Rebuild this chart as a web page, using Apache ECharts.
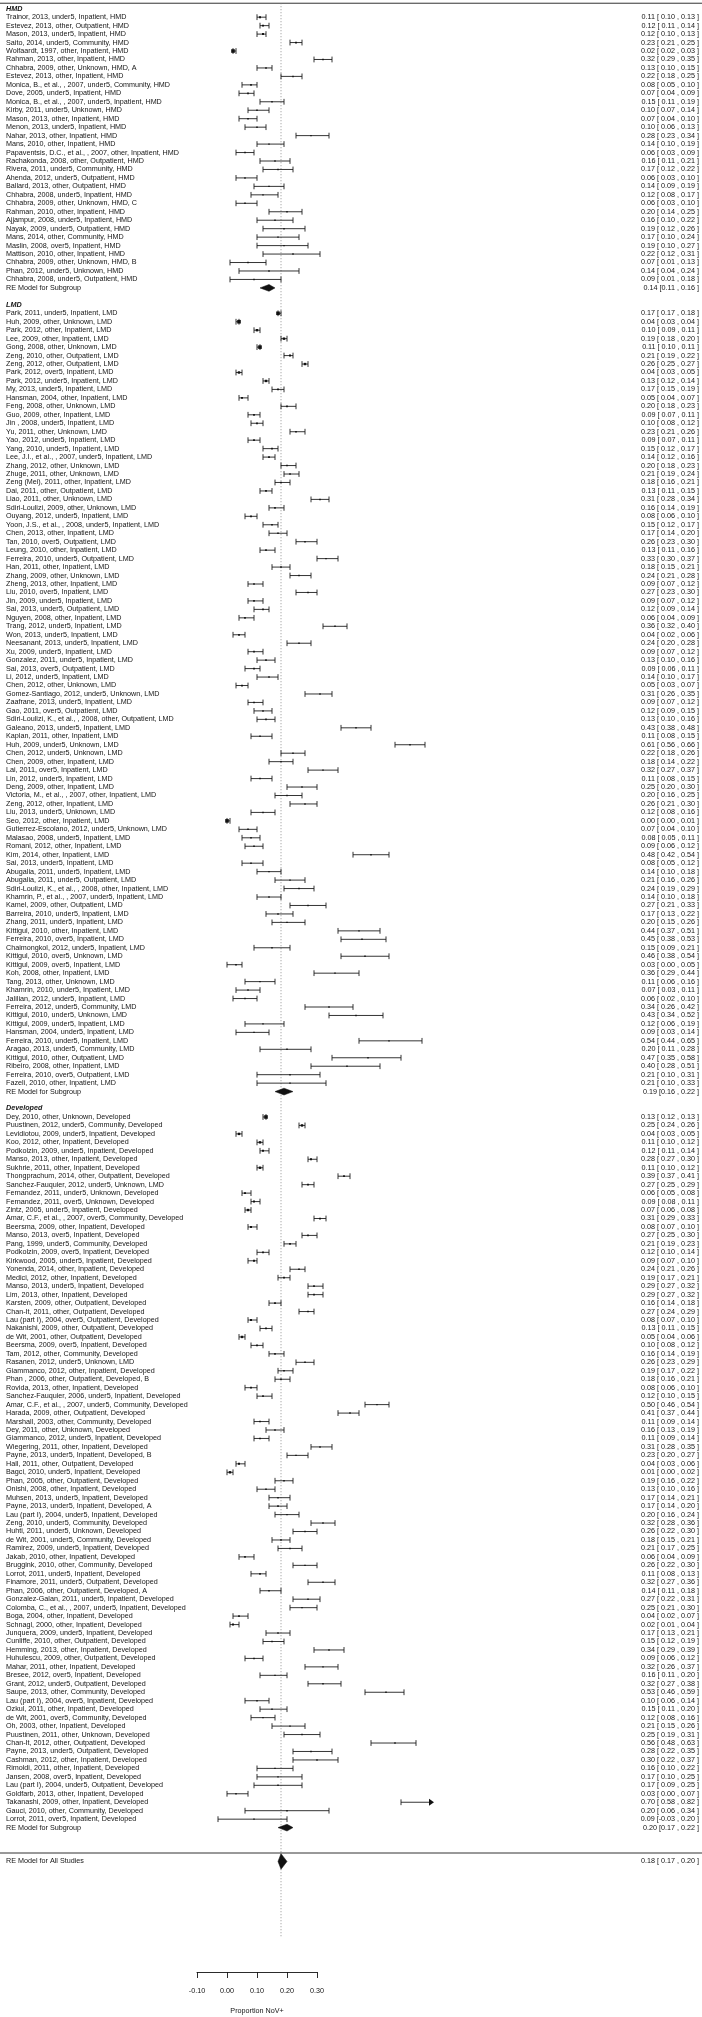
<!DOCTYPE html>
<html>
<head>
<meta charset="utf-8">
<script src="https://cdn.jsdelivr.net/npm/echarts@6/dist/echarts.min.js"></script>
<style>
html,body{margin:0;padding:0;background:#ffffff;}
#chart{width:702px;height:2017px;}
</style>
</head>
<body>
<div id="chart"></div>
<script>
// ---------------- DATA ----------------
const hmdLabels = [
"Trainor, 2013, under5, Inpatient, HMD",
"Estevez, 2013, other, Outpatient, HMD",
"Mason, 2013, under5, Inpatient, HMD",
"Saito, 2014, under5, Community, HMD",
"Wolfaardt, 1997, other, Inpatient, HMD",
"Rahman, 2013, other, Inpatient, HMD",
"Chhabra, 2009, other, Unknown, HMD, A",
"Estevez, 2013, other, Inpatient, HMD",
"Monica, B., et al., , 2007, under5, Community, HMD",
"Dove, 2005, under5, Inpatient, HMD",
"Monica, B., et al., , 2007, under5, Inpatient, HMD",
"Kirby, 2011, under5, Unknown, HMD",
"Mason, 2013, other, Inpatient, HMD",
"Menon, 2013, under5, Inpatient, HMD",
"Nahar, 2013, other, Inpatient, HMD",
"Mans, 2010, other, Inpatient, HMD",
"Papaventsis, D.C., et al., , 2007, other, Inpatient, HMD",
"Rachakonda, 2008, other, Outpatient, HMD",
"Rivera, 2011, under5, Community, HMD",
"Ahenda, 2012, under5, Outpatient, HMD",
"Ballard, 2013, other, Outpatient, HMD",
"Chhabra, 2008, under5, Inpatient, HMD",
"Chhabra, 2009, other, Unknown, HMD, C",
"Rahman, 2010, other, Inpatient, HMD",
"Ajjampur, 2008, under5, Inpatient, HMD",
"Nayak, 2009, under5, Outpatient, HMD",
"Mans, 2014, other, Community, HMD",
"Maslin, 2008, over5, Inpatient, HMD",
"Mattison, 2010, other, Inpatient, HMD",
"Chhabra, 2009, other, Unknown, HMD, B",
"Phan, 2012, under5, Unknown, HMD",
"Chhabra, 2008, under5, Outpatient, HMD"
];
const hmdEst = [0.11,0.12,0.12,0.23,0.02,0.32,0.13,0.22,0.08,0.07,0.15,0.10,0.07,0.10,0.28,0.14,0.06,0.16,0.17,0.06,0.14,0.12,0.06,0.20,0.16,0.19,0.17,0.19,0.22,0.07,0.14,0.09];
const hmdLower = [0.10,0.11,0.10,0.21,0.02,0.29,0.10,0.18,0.05,0.04,0.11,0.07,0.04,0.06,0.23,0.10,0.03,0.11,0.12,0.03,0.09,0.08,0.03,0.14,0.10,0.12,0.10,0.10,0.12,0.01,0.04,0.01];
const hmdUpper = [0.13,0.14,0.13,0.25,0.03,0.35,0.15,0.25,0.10,0.09,0.19,0.14,0.10,0.13,0.34,0.19,0.09,0.21,0.22,0.10,0.19,0.17,0.10,0.25,0.22,0.26,0.24,0.27,0.31,0.13,0.24,0.18];

const lmdLabels = [
"Park, 2011, under5, Inpatient, LMD",
"Huh, 2009, other, Unknown, LMD",
"Park, 2012, other, Inpatient, LMD",
"Lee, 2009, other, Inpatient, LMD",
"Gong, 2008, other, Unknown, LMD",
"Zeng, 2010, other, Outpatient, LMD",
"Zeng, 2012, other, Outpatient, LMD",
"Park, 2012, over5, Inpatient, LMD",
"Park, 2012, under5, Inpatient, LMD",
"My, 2013, under5, Inpatient, LMD",
"Hansman, 2004, other, Inpatient, LMD",
"Feng, 2008, other, Unknown, LMD",
"Guo, 2009, other, Inpatient, LMD",
"Jin , 2008, under5, Inpatient, LMD",
"Yu, 2011, other, Unknown, LMD",
"Yao, 2012, under5, Inpatient, LMD",
"Yang, 2010, under5, Inpatient, LMD",
"Lee, J.I., et al., , 2007, under5, Inpatient, LMD",
"Zhang, 2012, other, Unknown, LMD",
"Zhuge, 2011, other, Unknown, LMD",
"Zeng (Mei), 2011, other, Inpatient, LMD",
"Dai, 2011, other, Outpatient, LMD",
"Liao, 2011, other, Unknown, LMD",
"Sdiri-Loulizi, 2009, other, Unknown, LMD",
"Ouyang, 2012, under5, Inpatient, LMD",
"Yoon, J.S., et al., , 2008, under5, Inpatient, LMD",
"Chen, 2013, other, Inpatient, LMD",
"Tan, 2010, over5, Outpatient, LMD",
"Leung, 2010, other, Inpatient, LMD",
"Ferreira, 2010, under5, Outpatient, LMD",
"Han, 2011, other, Inpatient, LMD",
"Zhang, 2009, other, Unknown, LMD",
"Zheng, 2013, other, Inpatient, LMD",
"Liu, 2010, over5, Inpatient, LMD",
"Jin, 2009, under5, Inpatient, LMD",
"Sai, 2013, under5, Outpatient, LMD",
"Nguyen, 2008, other, Inpatient, LMD",
"Trang, 2012, under5, Inpatient, LMD",
"Won, 2013, under5, Inpatient, LMD",
"Neesanant, 2013, under5, Inpatient, LMD",
"Xu, 2009, under5, Inpatient, LMD",
"Gonzalez, 2011, under5, Inpatient, LMD",
"Sai, 2013, over5, Outpatient, LMD",
"Li, 2012, under5, Inpatient, LMD",
"Chen, 2012, other, Unknown, LMD",
"Gomez-Santiago, 2012, under5, Unknown, LMD",
"Zaafrane, 2013, under5, Inpatient, LMD",
"Gao, 2011, over5, Outpatient, LMD",
"Sdiri-Loulizi, K., et al., , 2008, other, Outpatient, LMD",
"Galeano, 2013, under5, Inpatient, LMD",
"Kaplan, 2011, other, Inpatient, LMD",
"Huh, 2009, under5, Unknown, LMD",
"Chen, 2012, under5, Unknown, LMD",
"Chen, 2009, other, Inpatient, LMD",
"Lai, 2011, over5, Inpatient, LMD",
"Lin, 2012, under5, Inpatient, LMD",
"Deng, 2009, other, Inpatient, LMD",
"Victoria, M., et al., , 2007, other, Inpatient, LMD",
"Zeng, 2012, other, Inpatient, LMD",
"Liu, 2013, under5, Unknown, LMD",
"Seo, 2012, other, Inpatient, LMD",
"Gutierrez-Escolano, 2012, under5, Unknown, LMD",
"Malasao, 2008, under5, Inpatient, LMD",
"Romani, 2012, other, Inpatient, LMD",
"Kim, 2014, other, Inpatient, LMD",
"Sai, 2013, under5, Inpatient, LMD",
"Abugalia, 2011, under5, Inpatient, LMD",
"Abugalia, 2011, under5, Outpatient, LMD",
"Sdiri-Loulizi, K., et al., , 2008, other, Inpatient, LMD",
"Khamrin, P., et al., , 2007, under5, Inpatient, LMD",
"Kamel, 2009, other, Outpatient, LMD",
"Barreira, 2010, under5, Inpatient, LMD",
"Zhang, 2011, under5, Inpatient, LMD",
"Kittigul, 2010, other, Inpatient, LMD",
"Ferreira, 2010, over5, Inpatient, LMD",
"Chaimongkol, 2012, under5, Inpatient, LMD",
"Kittigul, 2010, over5, Unknown, LMD",
"Kittigul, 2009, over5, Inpatient, LMD",
"Koh, 2008, other, Inpatient, LMD",
"Tang, 2013, other, Unknown, LMD",
"Khamrin, 2010, under5, Inpatient, LMD",
"Jalilian, 2012, under5, Inpatient, LMD",
"Ferreira, 2012, under5, Community, LMD",
"Kittigul, 2010, under5, Unknown, LMD",
"Kittigul, 2009, under5, Inpatient, LMD",
"Hansman, 2004, under5, Inpatient, LMD",
"Ferreira, 2010, under5, Inpatient, LMD",
"Aragao, 2013, under5, Community, LMD",
"Kittigul, 2010, other, Outpatient, LMD",
"Ribeiro, 2008, other, Inpatient, LMD",
"Ferreira, 2010, over5, Outpatient, LMD",
"Fazeli, 2010, other, Inpatient, LMD"
];
const lmdEst = [
0.17,0.04,0.10,0.19,0.11,0.21,0.26,0.04,0.13,0.17,
0.05,0.20,0.09,0.10,0.23,0.09,0.15,0.14,0.20,0.21,
0.18,0.13,0.31,0.16,0.08,0.15,0.17,0.26,0.13,0.33,
0.18,0.24,0.09,0.27,0.09,0.12,0.06,0.36,0.04,0.24,
0.09,0.13,0.09,0.14,0.05,0.31,0.09,0.12,0.13,0.43,
0.11,0.61,0.22,0.18,0.32,0.11,0.25,0.20,0.26,0.12,
0.00,0.07,0.08,0.09,0.48,0.08,0.14,0.21,0.24,0.14,
0.27,0.17,0.20,0.44,0.45,0.15,0.46,0.03,0.36,0.11,
0.07,0.06,0.34,0.43,0.12,0.09,0.54,0.20,0.47,0.40,
0.21,0.21];
const lmdLower = [
0.17,0.03,0.09,0.18,0.10,0.19,0.25,0.03,0.12,0.15,
0.04,0.18,0.07,0.08,0.21,0.07,0.12,0.12,0.18,0.19,
0.16,0.11,0.28,0.14,0.06,0.12,0.14,0.23,0.11,0.30,
0.15,0.21,0.07,0.23,0.07,0.09,0.04,0.32,0.02,0.20,
0.07,0.10,0.06,0.10,0.03,0.26,0.07,0.09,0.10,0.38,
0.08,0.56,0.18,0.14,0.27,0.08,0.20,0.16,0.21,0.08,
0.00,0.04,0.05,0.06,0.42,0.05,0.10,0.16,0.19,0.10,
0.21,0.13,0.15,0.37,0.38,0.09,0.38,0.00,0.29,0.06,
0.03,0.02,0.26,0.34,0.06,0.03,0.44,0.11,0.35,0.28,
0.10,0.10];
const lmdUpper = [
0.18,0.04,0.11,0.20,0.11,0.22,0.27,0.05,0.14,0.19,
0.07,0.23,0.11,0.12,0.26,0.11,0.17,0.16,0.23,0.24,
0.21,0.15,0.34,0.19,0.10,0.17,0.20,0.30,0.16,0.37,
0.21,0.28,0.12,0.30,0.12,0.14,0.09,0.40,0.06,0.28,
0.12,0.16,0.11,0.17,0.07,0.35,0.12,0.15,0.16,0.48,
0.15,0.66,0.26,0.22,0.37,0.15,0.30,0.25,0.30,0.16,
0.01,0.10,0.11,0.12,0.54,0.12,0.18,0.26,0.29,0.18,
0.33,0.22,0.26,0.51,0.53,0.21,0.54,0.05,0.44,0.16,
0.11,0.10,0.42,0.52,0.19,0.14,0.65,0.28,0.58,0.51,
0.31,0.33];

const devLabels = [
"Dey, 2010, other, Unknown, Developed",
"Puustinen, 2012, under5, Community, Developed",
"Levidiotou, 2009, under5, Inpatient, Developed",
"Koo, 2012, other, Inpatient, Developed",
"Podkolzin, 2009, under5, Inpatient, Developed",
"Manso, 2013, other, Inpatient, Developed",
"Sukhrie, 2011, other, Inpatient, Developed",
"Thongprachum, 2014, other, Outpatient, Developed",
"Sanchez-Fauquier, 2012, under5, Unknown, LMD",
"Fernandez, 2011, under5, Unknown, Developed",
"Fernandez, 2011, over5, Unknown, Developed",
"Zintz, 2005, under5, Inpatient, Developed",
"Amar, C.F., et al., , 2007, over5, Community, Developed",
"Beersma, 2009, other, Inpatient, Developed",
"Manso, 2013, over5, Inpatient, Developed",
"Pang, 1999, under5, Community, Developed",
"Podkolzin, 2009, over5, Inpatient, Developed",
"Kirkwood, 2005, under5, Inpatient, Developed",
"Yonenda, 2014, other, Inpatient, Developed",
"Medici, 2012, other, Inpatient, Developed",
"Manso, 2013, under5, Inpatient, Developed",
"Lim, 2013, other, Inpatient, Developed",
"Karsten, 2009, other, Outpatient, Developed",
"Chan-It, 2011, other, Outpatient, Developed",
"Lau (part I), 2004, over5, Outpatient, Developed",
"Nakanishi, 2009, other, Outpatient, Developed",
"de Wit, 2001, other, Outpatient, Developed",
"Beersma, 2009, over5, Inpatient, Developed",
"Tam, 2012, other, Community, Developed",
"Rasanen, 2012, under5, Unknown, LMD",
"Giammanco, 2012, other, Inpatient, Developed",
"Phan , 2006, other, Outpatient, Developed, B",
"Rovida, 2013, other, Inpatient, Developed",
"Sanchez-Fauquier, 2006, under5, Inpatient, Developed",
"Amar, C.F., et al., , 2007, under5, Community, Developed",
"Harada, 2009, other, Outpatient, Developed",
"Marshall, 2003, other, Community, Developed",
"Dey, 2011, other, Unknown, Developed",
"Giammanco, 2012, under5, Inpatient, Developed",
"Wiegering, 2011, other, Inpatient, Developed",
"Payne, 2013, under5, Inpatient, Developed, B",
"Hall, 2011, other, Outpatient, Developed",
"Bagci, 2010, under5, Inpatient, Developed",
"Phan, 2005, other, Outpatient, Developed",
"Onishi, 2008, other, Inpatient, Developed",
"Muhsen, 2013, under5, Inpatient, Developed",
"Payne, 2013, under5, Inpatient, Developed, A",
"Lau (part I), 2004, under5, Inpatient, Developed",
"Zeng, 2010, under5, Community, Developed",
"Huhti, 2011, under5, Unknown, Developed",
"de Wit, 2001, under5, Community, Developed",
"Ramirez, 2009, under5, Inpatient, Developed",
"Jakab, 2010, other, Inpatient, Developed",
"Bruggink, 2010, other, Community, Developed",
"Lorrot, 2011, under5, Inpatient, Developed",
"Finamore, 2011, under5, Outpatient, Developed",
"Phan, 2006, other, Outpatient, Developed, A",
"Gonzalez-Galan, 2011, under5, Inpatient, Developed",
"Colomba, C., et al., , 2007, under5, Inpatient, Developed",
"Boga, 2004, other, Inpatient, Developed",
"Schnagl, 2000, other, Inpatient, Developed",
"Junquera, 2009, under5, Inpatient, Developed",
"Cunliffe, 2010, other, Outpatient, Developed",
"Hemming, 2013, other, Inpatient, Developed",
"Huhulescu, 2009, other, Outpatient, Developed",
"Mahar, 2011, other, Inpatient, Developed",
"Bresee, 2012, over5, Inpatient, Developed",
"Grant, 2012, under5, Outpatient, Developed",
"Saupe, 2013, other, Community, Developed",
"Lau (part I), 2004, over5, Inpatient, Developed",
"Ozkul, 2011, other, Inpatient, Developed",
"de Wit, 2001, over5, Community, Developed",
"Oh, 2003, other, Inpatient, Developed",
"Puustinen, 2011, other, Unknown, Developed",
"Chan-It, 2012, other, Outpatient, Developed",
"Payne, 2013, under5, Outpatient, Developed",
"Cashman, 2012, other, Inpatient, Developed",
"Rimoldi, 2011, other, Inpatient, Developed",
"Jansen, 2008, over5, Inpatient, Developed",
"Lau (part I), 2004, under5, Outpatient, Developed",
"Goldfarb, 2013, other, Inpatient, Developed",
"Takanashi, 2009, other, Inpatient, Developed",
"Gauci, 2010, other, Community, Developed",
"Lorrot, 2011, over5, Inpatient, Developed"
];
const devEst = [
0.13,0.25,0.04,0.11,0.12,0.28,0.11,0.39,0.27,0.06,
0.09,0.07,0.31,0.08,0.27,0.21,0.12,0.09,0.24,0.19,
0.29,0.29,0.16,0.27,0.08,0.13,0.05,0.10,0.16,0.26,
0.19,0.18,0.08,0.12,0.50,0.41,0.11,0.16,0.11,0.31,
0.23,0.04,0.01,0.19,0.13,0.17,0.17,0.20,0.32,0.26,
0.18,0.21,0.06,0.26,0.11,0.32,0.14,0.27,0.25,0.04,
0.02,0.17,0.15,0.34,0.09,0.32,0.16,0.32,0.53,0.10,
0.15,0.12,0.21,0.25,0.56,0.28,0.30,0.16,0.17,0.17,
0.03,0.70,0.20,0.09];
const devLower = [
0.12,0.24,0.03,0.10,0.11,0.27,0.10,0.37,0.25,0.05,
0.08,0.06,0.29,0.07,0.25,0.19,0.10,0.07,0.21,0.17,
0.27,0.27,0.14,0.24,0.07,0.11,0.04,0.08,0.14,0.23,
0.17,0.16,0.06,0.10,0.46,0.37,0.09,0.13,0.09,0.28,
0.20,0.03,0.00,0.16,0.10,0.14,0.14,0.16,0.28,0.22,
0.15,0.17,0.04,0.22,0.08,0.27,0.11,0.22,0.21,0.02,
0.01,0.13,0.12,0.29,0.06,0.26,0.11,0.27,0.46,0.06,
0.11,0.08,0.15,0.19,0.48,0.22,0.22,0.10,0.10,0.09,
0.00,0.58,0.06,-0.03];
const devUpper = [
0.13,0.26,0.05,0.12,0.14,0.30,0.12,0.41,0.29,0.08,
0.11,0.08,0.33,0.10,0.30,0.23,0.14,0.10,0.26,0.21,
0.32,0.32,0.18,0.29,0.10,0.15,0.06,0.12,0.19,0.29,
0.22,0.21,0.10,0.15,0.54,0.44,0.14,0.19,0.14,0.35,
0.27,0.06,0.02,0.22,0.16,0.21,0.20,0.24,0.36,0.30,
0.21,0.25,0.09,0.30,0.13,0.36,0.18,0.31,0.30,0.07,
0.04,0.21,0.19,0.39,0.12,0.37,0.20,0.38,0.59,0.14,
0.20,0.16,0.26,0.31,0.63,0.35,0.37,0.22,0.25,0.25,
0.07,0.82,0.34,0.20];

const subgroupNames = ["HMD", "LMD", "Developed"];
const subgroupEst = [0.14, 0.19, 0.20];
const subgroupLower = [0.11, 0.16, 0.17];
const subgroupUpper = [0.16, 0.22, 0.22];
const subgroupLabel = "RE Model for Subgroup";
const overallLabel = "RE Model for All Studies";
const overallEst = 0.18, overallLower = 0.17, overallUpper = 0.20;
const axisTicks = [-0.10, 0.00, 0.10, 0.20, 0.30];
const xAxisTitle = "Proportion NoV+";

// ---------------- LAYOUT ----------------
const W = 702, H = 2017;
const ZERO_PX = 227, PX_PER_UNIT = 300;       // x scale
const ROW_PX = 8.46, ROW0_PX = 1853;           // y scale (row 0 -> pixel)
const X_MIN = -ZERO_PX / PX_PER_UNIT, X_MAX = (W - ZERO_PX) / PX_PER_UNIT;
const Y_MAX = ROW0_PX / ROW_PX, Y_MIN = -(H - ROW0_PX) / ROW_PX;
const LABEL_X = (6 - ZERO_PX) / PX_PER_UNIT;
const VALUE_X = (699 - ZERO_PX) / PX_PER_UNIT;
const ALIM_HI = 0.69;
const FONT = "'Liberation Sans', Arial, Helvetica, sans-serif";
const FS = 7.2;
const INK = '#141414';

const f2 = v => (Math.abs(v) < 1e-9 ? 0 : v).toFixed(2);
const padL = v => (v < 0 ? '' : ' ') + f2(v);
const fmtStudy = (e, l, u) => f2(e) + ' [' + padL(l) + ' , ' + f2(u) + ' ]';
const fmtSub = (e, l, u) => f2(e) + ' [' + f2(l) + ' , ' + f2(u) + ' ]';

const groups = [
  {labels: hmdLabels, est: hmdEst, lo: hmdLower, hi: hmdUpper},
  {labels: lmdLabels, est: lmdEst, lo: lmdLower, hi: lmdUpper},
  {labels: devLabels, est: devEst, lo: devLower, hi: devUpper}
];

const texts = [];     // {x,row,text,align,weight,style}
const ciData = [];    // [est, lo, hi, row]
const sqData = [];    // [est, row, size]
const diaData = [];   // [est, lo, hi, row, halfHeightPx]

let row = 218;
const TOP_ROW = row + 0.65;
groups.forEach((g, gi) => {
  texts.push({x: LABEL_X, row, text: subgroupNames[gi], align: 'left', weight: 'bold', fstyle: 'italic'});
  row--;
  g.labels.forEach((lab, i) => {
    texts.push({x: LABEL_X, row, text: lab, align: 'left'});
    texts.push({x: VALUE_X, row, text: fmtStudy(g.est[i], g.lo[i], g.hi[i]), align: 'right'});
    ciData.push([g.est[i], g.lo[i], g.hi[i], row]);
    if (g.est[i] <= ALIM_HI) {
      const w = Math.max(g.hi[i] - g.lo[i], 0.01);
      sqData.push([g.est[i], row, Math.min(3.6, Math.max(1.4, 1.1 + 0.026 / w))]);
    }
    row--;
  });
  texts.push({x: LABEL_X, row, text: subgroupLabel, align: 'left'});
  texts.push({x: VALUE_X, row, text: fmtSub(subgroupEst[gi], subgroupLower[gi], subgroupUpper[gi]), align: 'right'});
  diaData.push([subgroupEst[gi], subgroupLower[gi], subgroupUpper[gi], row, 3.4]);
  row -= 2;
});
const OVERALL_ROW = -1;
texts.push({x: LABEL_X, row: OVERALL_ROW, text: overallLabel, align: 'left'});
texts.push({x: VALUE_X, row: OVERALL_ROW, text: fmtStudy(overallEst, overallLower, overallUpper), align: 'right'});
diaData.push([overallEst, overallLower, overallUpper, OVERALL_ROW, 7.8]);

const hLines = [[X_MIN, TOP_ROW, X_MAX, TOP_ROW], [X_MIN, 0, X_MAX, 0]];
const refLine = [[overallEst, TOP_ROW, overallEst, -10]];

// ---------------- CHART ----------------
const chart = echarts.init(document.getElementById('chart'));

const option = {
  animation: false,
  backgroundColor: '#ffffff',
  grid: [
    {left: 0, top: 0, width: W, height: H},
    {left: ZERO_PX + axisTicks[0] * PX_PER_UNIT, width: (axisTicks[axisTicks.length - 1] - axisTicks[0]) * PX_PER_UNIT, top: 1960, height: 12}
  ],
  xAxis: [
    {type: 'value', gridIndex: 0, min: X_MIN, max: X_MAX, show: false},
    {type: 'value', gridIndex: 1, min: axisTicks[0], max: axisTicks[axisTicks.length - 1], interval: 0.1,
     position: 'bottom',
     axisLine: {show: true, lineStyle: {color: INK, width: 0.9}},
     axisTick: {show: true, length: 6, lineStyle: {color: INK, width: 0.9}},
     splitLine: {show: false},
     axisLabel: {show: true, margin: 16, fontSize: FS, fontFamily: FONT, color: INK, formatter: v => f2(v)},
     name: xAxisTitle, nameLocation: 'middle', nameGap: 36,
     nameTextStyle: {fontSize: FS, fontFamily: FONT, color: INK}}
  ],
  yAxis: [
    {type: 'value', gridIndex: 0, min: Y_MIN, max: Y_MAX, show: false},
    {type: 'value', gridIndex: 1, min: 0, max: 1, show: false}
  ],
  series: [
    {
      type: 'custom', name: 'hlines', xAxisIndex: 0, yAxisIndex: 0, data: hLines, silent: true,
      renderItem: (p, api) => {
        const a = api.coord([api.value(0), api.value(1)]);
        const b = api.coord([api.value(2), api.value(3)]);
        return {type: 'line', shape: {x1: a[0], y1: a[1], x2: b[0], y2: b[1]}, style: {stroke: '#333', lineWidth: 1}};
      }
    },
    {
      type: 'custom', name: 'refline', xAxisIndex: 0, yAxisIndex: 0, data: refLine, silent: true,
      renderItem: (p, api) => {
        const a = api.coord([api.value(0), api.value(1)]);
        const b = api.coord([api.value(2), api.value(3)]);
        return {type: 'line', shape: {x1: a[0], y1: a[1], x2: b[0], y2: b[1]}, style: {stroke: '#777', lineWidth: 0.8, lineDash: [1, 2]}};
      }
    },
    {
      type: 'custom', name: 'ci', xAxisIndex: 0, yAxisIndex: 0, data: ciData, silent: true,
      renderItem: (p, api) => {
        const lo = api.value(1), hi = api.value(2), r = api.value(3);
        const y = api.coord([0, r])[1];
        const xl = api.coord([lo, r])[0];
        const arrow = hi > ALIM_HI;
        const xh = api.coord([Math.min(hi, ALIM_HI), r])[0];
        const cap = 2.9, aLen = 5, aHalf = 3.4;
        const st = {stroke: '#1e1e1e', lineWidth: 0.9};
        const ch = [];
        ch.push({type: 'line', shape: {x1: xl, y1: y, x2: arrow ? xh - aLen : xh, y2: y}, style: st});
        ch.push({type: 'line', shape: {x1: xl, y1: y - cap, x2: xl, y2: y + cap}, style: st});
        if (arrow) {
          ch.push({type: 'polygon', shape: {points: [[xh - aLen, y - aHalf], [xh, y], [xh - aLen, y + aHalf]]}, style: {fill: '#111'}});
        } else {
          ch.push({type: 'line', shape: {x1: xh, y1: y - cap, x2: xh, y2: y + cap}, style: st});
        }
        return {type: 'group', children: ch};
      }
    },
    {
      type: 'scatter', name: 'est', xAxisIndex: 0, yAxisIndex: 0, data: sqData, silent: true,
      symbol: 'rect', symbolSize: v => v[2], itemStyle: {color: '#111', opacity: 1}
    },
    {
      type: 'custom', name: 'diamonds', xAxisIndex: 0, yAxisIndex: 0, data: diaData, silent: true,
      renderItem: (p, api) => {
        const e = api.value(0), lo = api.value(1), hi = api.value(2), r = api.value(3), hh = api.value(4);
        const c = api.coord([e, r]);
        const l = api.coord([lo, r]);
        const u = api.coord([hi, r]);
        return {type: 'polygon', shape: {points: [[l[0], c[1]], [c[0], c[1] - hh], [u[0], c[1]], [c[0], c[1] + hh]]}, style: {fill: '#111', stroke: '#111', lineWidth: 0.5}};
      }
    },
    {
      type: 'custom', name: 'texts', xAxisIndex: 0, yAxisIndex: 0, silent: true,
      data: texts.map(t => [t.x, t.row]),
      renderItem: (p, api) => {
        const t = texts[p.dataIndex];
        const c = api.coord([api.value(0), api.value(1)]);
        return {type: 'text', x: c[0], y: c[1], style: {
          text: t.text, fill: INK, fontSize: FS, fontFamily: FONT,
          fontWeight: t.weight || 'normal', fontStyle: t.fstyle || 'normal',
          align: t.align, verticalAlign: 'middle'
        }};
      }
    }
  ]
};
chart.setOption(option);
</script>
</body>
</html>
